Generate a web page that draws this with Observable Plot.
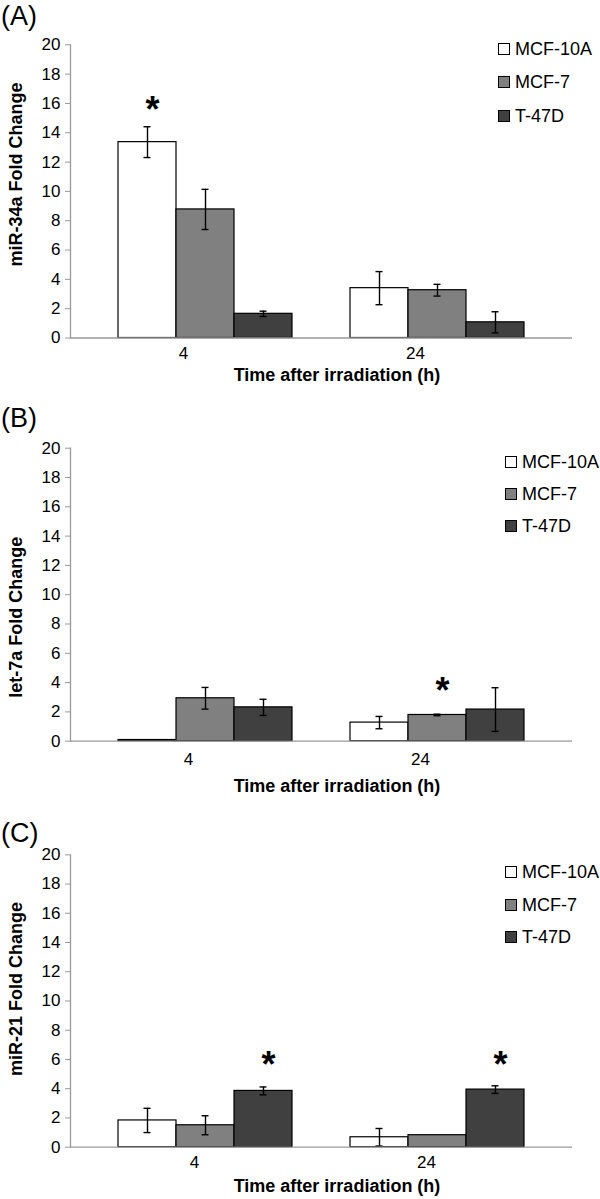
<!DOCTYPE html>
<html>
<head>
<meta charset="utf-8">
<script src="https://cdn.jsdelivr.net/npm/d3@7"></script>
<script src="https://cdn.jsdelivr.net/npm/@observablehq/plot@0.6"></script>
<style>
  html, body { margin: 0; padding: 0; background: #fff; }
  #root { position: relative; width: 600px; height: 1199px; overflow: hidden; font-family: "Liberation Sans", Arial, sans-serif; }
  .panel { position: absolute; left: 0; }
  .tag { position: absolute; left: 1px; font-size: 27px; line-height: 27px; color: #000; }
  .legend-row { position: absolute; display: flex; align-items: center; height: 18px; font-size: 18px; line-height: 18px; color: #000; white-space: nowrap; }
  .legend-box { width: 10px; height: 10px; border: 1px solid #000; margin-right: 5px; }
</style>
</head>
<body>
<div id="root"></div>
<script>
// ---- data ----
const times = ["4", "24"];
const series = ["MCF-10A", "MCF-7", "T-47D"];
const seriesColors = ["#ffffff", "#808080", "#404040"];
const yTicks = [0, 2, 4, 6, 8, 10, 12, 14, 16, 18, 20];
const xTitle = "Time after irradiation (h)";
const panelTags = ["(A)", "(B)", "(C)"];
const yTitles = ["miR-34a Fold Change", "let-7a Fold Change", "miR-21 Fold Change"];

// values ordered: time 4 (MCF-10A, MCF-7, T-47D), time 24 (MCF-10A, MCF-7, T-47D)
const miR34aMean = [13.36, 8.77, 1.65, 3.40, 3.26, 1.07];
const miR34aErr  = [1.05, 1.37, 0.18, 1.13, 0.40, 0.72];
const let7aMean  = [0.08, 2.93, 2.31, 1.27, 1.79, 2.16];
const let7aErr   = [0, 0.74, 0.55, 0.42, 0.05, 1.49];
const miR21Mean  = [1.83, 1.50, 3.85, 0.68, 0.82, 3.94];
const miR21Err   = [0.83, 0.65, 0.27, 0.60, 0, 0.26];

// significance markers: [time, series, height]
const miR34aStars = [["4", "MCF-10A", 16.2]];
const let7aStars  = [["24", "MCF-7", 4.03]];
const miR21Stars  = [["4", "T-47D", 6.22], ["24", "T-47D", 6.22]];

// ---- layout (per panel) ----
const layout = [
  {top: 0,   height: 400, marginTop: 44.3, plotH: 293.2, tickPad: 8.5,  tickDx: -22, xTitleDy: 37.5, yTitleDy: -17,  tagTop: 3,   legX: 498, legY: 48.5, legStep: 33.7},
  {top: 400, height: 400, marginTop: 47.7, plotH: 293.0, tickPad: 11.3, tickDx: -17, xTitleDy: 45,   yTitleDy: 22.5, tagTop: 405, legX: 505, legY: 61.7, legStep: 32.2},
  {top: 800, height: 399, marginTop: 54.3, plotH: 292.4, tickPad: 9,    tickDx: -11, xTitleDy: 39,   yTitleDy: -12,  tagTop: 820, legX: 505, legY: 71.7, legStep: 32.8}
];

const panelData = [
  {mean: miR34aMean, err: miR34aErr, stars: miR34aStars},
  {mean: let7aMean, err: let7aErr, stars: let7aStars},
  {mean: miR21Mean, err: miR21Err, stars: miR21Stars}
];

// band keys with a spacer between the time groups
const keyOf = (t, s) => `${t}|${s}`;
const xDomain = [];
times.forEach((t, i) => {
  if (i > 0) xDomain.push(`gap${i}`);
  series.forEach(s => xDomain.push(keyOf(t, s)));
});

const FONT = '"Liberation Sans", Arial, sans-serif';
const root = document.getElementById("root");

panelData.forEach((pd, p) => {
  const L = layout[p];
  const rows = [];
  times.forEach((t, ti) => series.forEach((s, si) => {
    const i = ti * series.length + si;
    rows.push({key: keyOf(t, s), time: t, series: s, mean: pd.mean[i], err: pd.err[i]});
  }));
  const errRows = rows.filter(r => r.err > 0);
  const stars = pd.stars.map(([t, s, h]) => ({key: keyOf(t, s), h}));

  const chart = Plot.plot({
    width: 600,
    height: L.height,
    marginLeft: 70,
    marginRight: 28,
    marginTop: L.marginTop,
    marginBottom: L.height - L.marginTop - L.plotH,
    style: {fontFamily: FONT, fontSize: "17px", background: "transparent", overflow: "visible"},
    x: {type: "band", domain: xDomain, paddingInner: 0, paddingOuter: 0.757},
    y: {domain: [0, 20]},
    color: {domain: series, range: seriesColors},
    marks: [
      Plot.barY(rows, {x: "key", y: "mean", fill: "series", stroke: "#000", strokeWidth: 1.2}),
      Plot.ruleX(errRows, {x: "key", y1: d => d.mean - d.err, y2: d => d.mean + d.err, stroke: "#000", strokeWidth: 1.4}),
      Plot.tickY(errRows, {x: "key", y: d => d.mean + d.err, stroke: "#000", strokeWidth: 1.4, insetLeft: 25.5, insetRight: 25.5}),
      Plot.tickY(errRows, {x: "key", y: d => d.mean - d.err, stroke: "#000", strokeWidth: 1.4, insetLeft: 25.5, insetRight: 25.5}),
      Plot.text(stars, {x: "key", y: "h", text: () => "*", fontSize: 36, fontWeight: "bold", dx: 5, dy: 9.5, fill: "#000"}),
      Plot.ruleY([0], {stroke: "#999", strokeWidth: 1.3}),
      Plot.frame({anchor: "left", stroke: "#999", strokeWidth: 1.3}),
      Plot.axisY({ticks: yTicks, tickSize: 5, tickPadding: 5, fontSize: 17, stroke: "#999", fill: "#000", label: null}),
      Plot.axisX({ticks: times.map(t => keyOf(t, "MCF-7")), tickFormat: k => k.split("|")[0], tickSize: 0, tickPadding: L.tickPad, dx: L.tickDx, fontSize: 17, fill: "#000", label: null}),
      Plot.text([xTitle], {frameAnchor: "bottom", text: d => d, textAnchor: "middle", lineAnchor: "middle", dy: L.xTitleDy, dx: 15.5, fontSize: 18, fontWeight: "bold", fill: "#000"}),
      Plot.text([yTitles[p]], {frameAnchor: "left", text: d => d, textAnchor: "middle", lineAnchor: "middle", rotate: -90, dx: -54.5, dy: L.yTitleDy, fontSize: 18, fontWeight: "bold", fill: "#000"})
    ]
  });
  const wrap = document.createElement("div");
  wrap.className = "panel";
  wrap.style.top = L.top + "px";
  wrap.appendChild(chart);
  root.appendChild(wrap);

  const tag = document.createElement("div");
  tag.className = "tag";
  tag.style.top = L.tagTop + "px";
  tag.textContent = panelTags[p];
  root.appendChild(tag);

  series.forEach((s, si) => {
    const row = document.createElement("div");
    row.className = "legend-row";
    row.style.left = L.legX + "px";
    row.style.top = (L.top + L.legY + si * L.legStep - 9) + "px";
    const box = document.createElement("span");
    box.className = "legend-box";
    box.style.background = seriesColors[si];
    row.appendChild(box);
    row.appendChild(document.createTextNode(s));
    root.appendChild(row);
  });
});
</script>
</body>
</html>
